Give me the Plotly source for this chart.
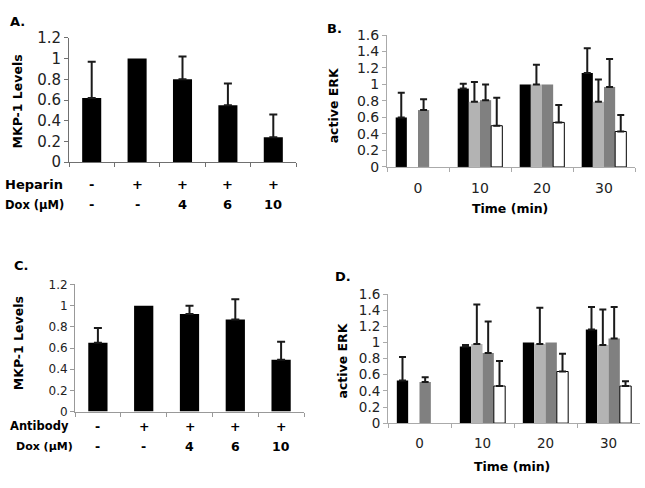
import plotly.graph_objects as go

W, H = 645, 488

# ---------------- data ----------------
# Panel A (Heparin)
a_cats = ["1", "2", "3", "4", "5"]
a_vals = [0.62, 1.00, 0.80, 0.55, 0.24]
a_err_top = [0.97, None, 1.02, 0.76, 0.46]
a_row1 = ["-", "+", "+", "+", "+"]
a_row2 = ["-", "-", "4", "6", "10"]

# Panel C (Antibody)
c_cats = ["1", "2", "3", "4", "5"]
c_vals = [0.65, 1.00, 0.92, 0.87, 0.49]
c_err_top = [0.79, None, 1.00, 1.06, 0.66]
c_row1 = ["-", "+", "+", "+", "+"]
c_row2 = ["-", "-", "4", "6", "10"]

# Panels B and D (time courses)
times = ["0", "10", "20", "30"]
b_series = [
    [0.60, 0.95, 1.00, 1.14],
    [None, 0.79, 1.00, 0.79],
    [0.69, 0.81, 1.00, 0.97],
    [None, 0.50, 0.54, 0.43],
]
b_err_top = [
    [0.90, 1.01, None, 1.44],
    [None, 1.03, 1.24, 1.06],
    [0.82, 1.00, None, 1.31],
    [None, 0.84, 0.75, 0.63],
]
d_series = [
    [0.53, 0.95, 1.00, 1.16],
    [None, 0.98, 0.98, 0.97],
    [0.51, 0.87, 1.00, 1.05],
    [None, 0.46, 0.64, 0.46],
]
d_err_top = [
    [0.82, 0.97, None, 1.44],
    [None, 1.47, 1.43, 1.41],
    [0.57, 1.26, None, 1.44],
    [None, 0.77, 0.86, 0.52],
]
series_colors = ["#000000", "#b3b3b3", "#808080", "#ffffff"]
series_lines = [0, 0, 0, 1]

ERR_COLOR = "#1a1a1a"
FONT = "DejaVu Sans"


def px_x(p):
    return p / W


def px_y(p):
    return 1 - p / H


fig = go.Figure()


def add_bars(x, vals, tops, xa, ya, color, lw, width, offset, cap):
    # the bars themselves
    fig.add_trace(go.Bar(
        x=x, y=vals, xaxis=xa, yaxis=ya, width=width, offset=offset,
        marker=dict(color=color, line=dict(width=lw, color="#000000")),
        showlegend=False, hoverinfo="skip",
    ))
    # transparent copy carrying only the upward error bars
    ev = [v if (t is not None and v is not None) else None for v, t in zip(vals, tops)]
    ea = [(t - v) if (t is not None and v is not None) else 0 for v, t in zip(vals, tops)]
    fig.add_trace(go.Bar(
        x=x, y=ev, xaxis=xa, yaxis=ya, width=width, offset=offset,
        marker=dict(color="rgba(0,0,0,0)", line=dict(width=0)),
        error_y=dict(type="data", symmetric=False, array=ea,
                     arrayminus=[0] * len(ea), color=ERR_COLOR, thickness=2, width=cap),
        showlegend=False, hoverinfo="skip",
    ))


add_bars(a_cats, a_vals, a_err_top, "x", "y", "#000000", 0, 0.42, -0.21, 4)
add_bars(c_cats, c_vals, c_err_top, "x3", "y3", "#000000", 0, 0.42, -0.21, 4)
for (xa, ya, ser, tops) in [("x2", "y2", b_series, b_err_top),
                            ("x4", "y4", d_series, d_err_top)]:
    for i in range(4):
        add_bars(times, ser[i], tops[i], xa, ya, series_colors[i], series_lines[i],
                 0.18, -0.36 + 0.18 * i, 3.5)


def xcat(domain, show_labels, color, size, anchor):
    return dict(domain=domain, type="category", showline=True, linecolor=color,
                linewidth=1, ticks="outside", tickson="boundaries", ticklen=4,
                tickcolor=color, showticklabels=show_labels,
                tickfont=dict(family=FONT, size=size, color="#222222"),
                showgrid=False, zeroline=False, ticklabelstandoff=8, anchor=anchor)


def yax(domain, rng, dtick, color, anchor, size):
    return dict(domain=domain, range=rng, dtick=dtick, showline=True, linecolor=color,
                linewidth=1, ticks="outside", ticklen=4, tickcolor=color,
                tickfont=dict(family=FONT, size=size, color="#222222"),
                showgrid=False, zeroline=False, anchor=anchor, tickformat="~g")


fig.update_layout(
    width=W, height=H, margin=dict(l=0, r=0, t=0, b=0),
    paper_bgcolor="white", plot_bgcolor="white",
    barmode="overlay",
    font=dict(family=FONT, color="#000000"),
    xaxis=xcat([px_x(69), px_x(296)], False, "#707070", 15, "y"),
    yaxis=yax([px_y(159), px_y(30)], [0, 1.2], 0.2, "#707070", "x", 15),
    xaxis2=xcat([px_x(387), px_x(635)], True, "#aaaaaa", 14, "y2"),
    yaxis2=yax([px_y(164), px_y(27)], [0, 1.6], 0.2, "#aaaaaa", "x2", 14),
    xaxis3=xcat([px_x(75), px_x(304)], False, "#999999", 12, "y3"),
    yaxis3=yax([px_y(418), px_y(286)], [0, 1.2], 0.2, "#999999", "x3", 12),
    xaxis4=xcat([px_x(388), px_x(640)], True, "#aaaaaa", 13.5, "y4"),
    yaxis4=yax([px_y(430), px_y(296)], [0, 1.6], 0.2, "#aaaaaa", "x4", 13.5),
)

ann = []


def text(x, y, s, size=13, xanchor="center", angle=0, xref="paper"):
    ann.append(dict(x=x, y=y, xref=xref, yref="paper", text=s, showarrow=False,
                    xanchor=xanchor, yanchor="middle", textangle=angle, borderpad=0,
                    font=dict(family=FONT, size=size, color="#000000")))


b = "<b>%s</b>"
# panel letters
text(px_x(9), px_y(13), b % "A.", 13, "left")
text(px_x(326), px_y(20), b % "B.", 13, "left")
text(px_x(13), px_y(266), b % "C.", 13, "left")
text(px_x(334), px_y(278), b % "D.", 13, "left")
# y titles
text(px_x(17), px_y(96), b % "MKP-1 Levels", 12.5, angle=-90)
text(px_x(18), px_y(347), b % "MKP-1 Levels", 12.5, angle=-90)
text(px_x(333), px_y(100), b % "active ERK", 12.5, angle=-90)
text(px_x(343), px_y(365), b % "active ERK", 12.5, angle=-90)
# x titles
text(px_x(510), px_y(207), b % "Time (min)", 12.5)
text(px_x(512), px_y(475), b % "Time (min)", 12.5)
# row labels
text(px_x(4), px_y(182), b % "Heparin", 13, "left")
text(px_x(4), px_y(203), b % "Dox (μM)", 11.5, "left")
text(px_x(9), px_y(433), b % "Antibody", 11.5, "left")
text(px_x(15), px_y(454), b % "Dox (μM)", 11, "left")
for i in range(5):
    text(i, px_y(182), b % a_row1[i], 13, xref="x")
    text(i, px_y(203), b % a_row2[i], 13, xref="x")
    text(i, px_y(433), b % c_row1[i], 12.5, xref="x3")
    text(i, px_y(454), b % c_row2[i], 12.5, xref="x3")

fig.update_layout(annotations=ann)

fig.write_html(
    "out.html",
    config={"displayModeBar": False},
    post_script=("document.documentElement.style.margin='0';"
                 "document.body.style.margin='0';"
                 "document.body.style.padding='0';"
                 "document.documentElement.style.overflow='hidden';"
                 "document.body.style.overflow='hidden';"),
)
